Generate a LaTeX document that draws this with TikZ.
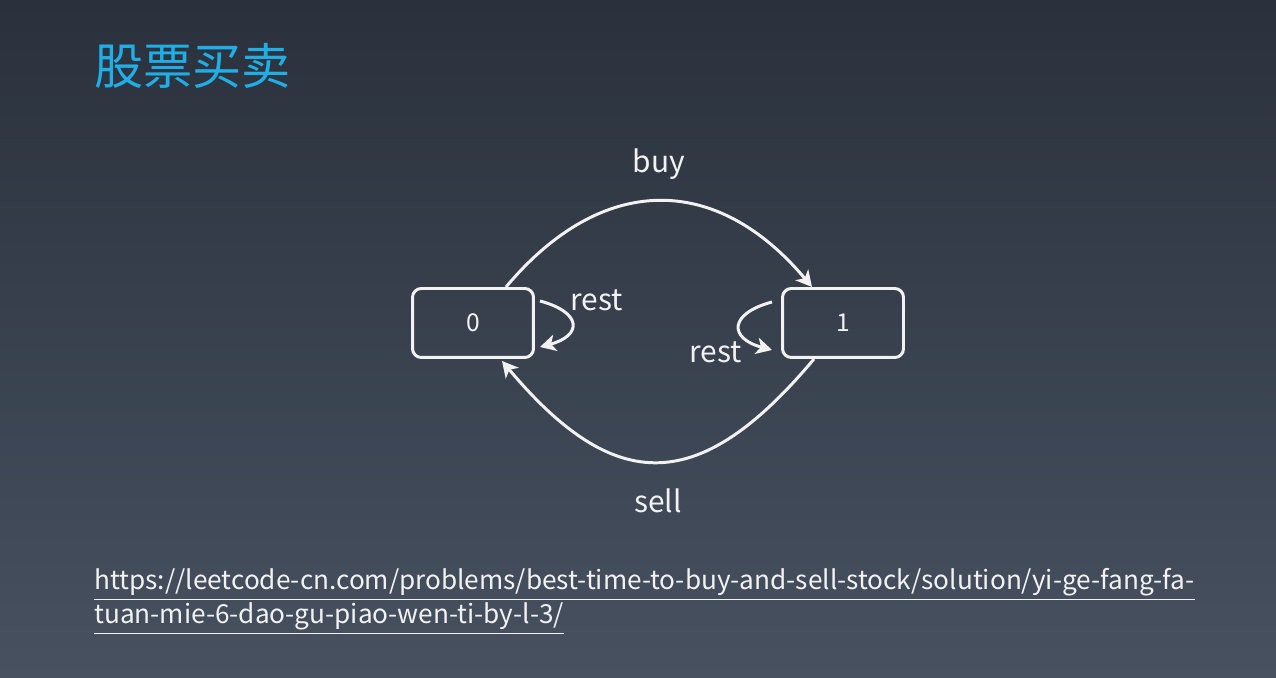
\documentclass[tikz,border=0pt]{standalone}
\usepackage{fontspec}
\setmainfont{Noto Sans CJK SC}
\usepackage{tikz}
\usetikzlibrary{arrows.meta,positioning,calc}
\definecolor{bgtop}{HTML}{2A313C}
\definecolor{bgbottom}{HTML}{475160}
\definecolor{titleblue}{HTML}{1FAEE6}
\definecolor{inkwhite}{HTML}{F2F2F2}
\newcommand{\linkline}[1]{\underline{#1\vrule width 0pt depth 3.8pt}}
\tikzset{
titletext/.style={
    text=titleblue,
    inner sep=0pt,
    font=\fontsize{28}{32}\selectfont
},
state/.style={
    rectangle,
    draw=inkwhite,
    line width=1.7pt,
    rounded corners=5pt,
    minimum width=2.42cm,
    minimum height=1.38cm,
    text=inkwhite,
    font=\fontsize{14}{16}\selectfont
},
connector/.style={
    -{Stealth[length=9pt,width=9.5pt,inset=2.5pt]},
    draw=inkwhite,
    line width=1.7pt
},
edgelabel/.style={
    text=inkwhite,
    inner sep=0pt,
    font=\fontsize{17}{20}\selectfont
},
linktext/.style={
    text=inkwhite,
    inner sep=0pt,
    anchor=base west,
    font=\fontsize{14.9}{18}\selectfont
}
}

\begin{document}
\begin{tikzpicture}[x=0.02cm,y=-0.02cm]
% background
\useasboundingbox (0,0) rectangle (1276,678);
\shade[top color=bgtop,bottom color=bgbottom] (0,0) rectangle (1276,678);

\node[titletext,anchor=west] (title) at (94,66) {股票买卖};

% states
\node[state] (s0) at (473,323) {0};
\node[state] (s1) at (843,323) {1};

% transitions
\draw[connector] ($(s0.north)+(33,0)$) to[out=50,in=130,looseness=1.25]
    node[edgelabel,midway,yshift=0.74cm] (buy) {buy} ($(s1.north)+(-31,0)$);
\draw[connector] ($(s1.south)+(-29,0)$) to[out=-130,in=-50,looseness=1.45]
    node[edgelabel,midway,yshift=-0.78cm] (sell) {sell} ($(s0.south)+(29,2)$);
\draw[connector] ($(s0.east)+(5,-22)$) to[out=-15,in=15,looseness=2.45]
    node[edgelabel,midway,xshift=0.5cm,yshift=0.48cm] (rest0) {rest} ($(s0.east)+(5,24)$);
\draw[connector] ($(s1.west)+(-9,-21)$) to[out=195,in=165,looseness=2.4]
    node[edgelabel,midway,xshift=-0.48cm,yshift=-0.52cm] (rest1) {rest} ($(s1.west)+(-9,27)$);

% link
\node[linktext] (url1) at (94,590) {\linkline{https://leetcode-cn.com/problems/best-time-to-buy-and-sell-stock/solution/yi-ge-fang-fa-}};
\node[linktext] (url2) at (94,624) {\linkline{tuan-mie-6-dao-gu-piao-wen-ti-by-l-3/}};
\end{tikzpicture}
\end{document}
